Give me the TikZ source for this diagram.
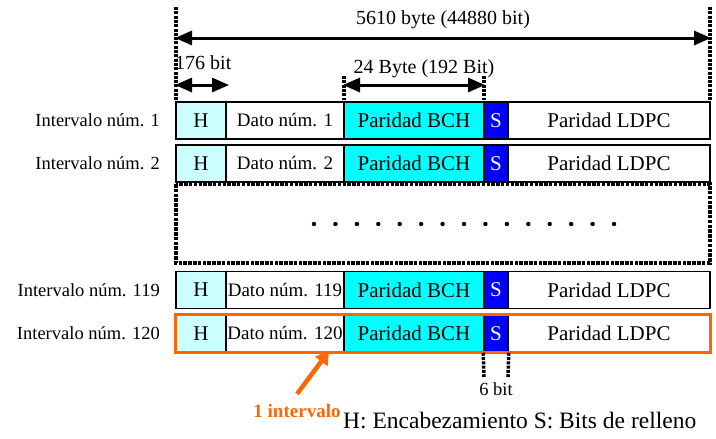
\documentclass[tikz,border=0pt]{standalone}
\usepackage{fontspec}
\setmainfont{Liberation Serif}
\usetikzlibrary{arrows.meta}
\definecolor{hcyan}{HTML}{CCFFFF}
\definecolor{bchcyan}{HTML}{00FFFF}
\definecolor{sblue}{HTML}{0000FF}
\definecolor{slotorange}{HTML}{FF6600}
\newcommand\fs[1]{\fontsize{#1}{#1}\selectfont}
\begin{document}
\begin{tikzpicture}[x=1pt,y=-1pt,
  cell/.style={draw=black, line width=1.5pt, minimum height=37pt, inner sep=0pt, anchor=center},
  rowlabel/.style={anchor=east, inner sep=0pt, font=\fs{18.5}},
  dimarrow/.style={line width=3pt, {Triangle[length=17pt,width=14pt]}-{Triangle[length=17pt,width=14pt]}, shorten <=-1pt, shorten >=-1pt},
  guide/.style={line width=3.5pt, dash pattern=on 3pt off 1.3pt},
  dimlabel/.style={inner sep=0pt, font=\fs{20}}]
\useasboundingbox (0,0) rectangle (716,439);

% one slot row: header, data, BCH parity, stuffing bits, LDPC parity
\foreach \n/\yc in {1/120.5, 2/163.5, 119/290, 120/333.5}{
  \node[rowlabel] (lab\n) at (160,\yc) {Intervalo núm. \n};
  \node[cell, fill=hcyan, minimum width=50pt, font=\fs{21}] (h\n) at (201,\yc) {H};
  \node[cell, fill=white, minimum width=118pt, font=\fs{19}] (d\n) at (285,\yc) {Dato núm. \n};
  \node[cell, fill=bchcyan, minimum width=140pt, font=\fs{21}] (b\n) at (414,\yc) {Paridad BCH};
  \node[cell, fill=sblue, minimum width=24pt, font=\fs{21}, text=white] (s\n) at (496,\yc) {S};
  \node[cell, fill=white, minimum width=202pt, font=\fs{21}] (l\n) at (609,\yc) {Paridad LDPC};
}
% highlighted slot
\draw[slotorange, line width=3pt] (h120.north west) rectangle (l120.south east);

% rows left out
\draw[line width=3.5pt, dash pattern=on 3.5pt off 1.3pt] (176,184) rectangle (710,263);
\foreach \i in {0,...,14}{
  \fill (314+\i*21.43,224) circle (2.2pt);
}

% overall length
\coordinate (tl) at (176,7);
\coordinate (tr) at (710,7);
\coordinate (tlb) at (176,100);
\coordinate (trb) at (710,100);
\draw[guide] (tl) -- (tlb);
\draw[guide] (tr) -- (trb);
\coordinate (aL) at (176,38);
\coordinate (aR) at (710,38);
\draw[dimarrow] (aL) -- (aR);
\node[dimlabel] (total) at (443,20) {5610 byte (44880 bit)};

% header length
\coordinate (hL) at (176,85);
\coordinate (hR) at (228,85);
\draw[dimarrow] (hL) -- (hR);
\node[dimlabel, anchor=west] (hlen) at (175,63) {176 bit};

% BCH parity length
\coordinate (bt1) at (344,76);
\coordinate (bt2) at (484,76);
\coordinate (bb1) at (344,100);
\coordinate (bb2) at (484,100);
\draw[guide] (bt1) -- (bb1);
\draw[guide] (bt2) -- (bb2);
\coordinate (bL) at (344,85);
\coordinate (bR) at (484,85);
\draw[dimarrow] (bL) -- (bR);
\node[dimlabel] (blen) at (424,69) {24 Byte (192 Bit)};

% stuffing length
\coordinate (s1) at (484,377);
\coordinate (s2) at (508,377);
\draw[guide] (s120.south west) -- (s1);
\draw[guide] (s120.south east) -- (s2);
\node[inner sep=0pt, font=\fs{18.5}] (slen) at (496,389) {6 bit};

% slot pointer
\node[inner sep=0pt, font=\fs{19}\bfseries, text=slotorange] (one) at (297,411) {1 intervalo};
\coordinate (ptail) at (297,394);
\coordinate (ptip) at (329,351);
\draw[slotorange, line width=4.5pt, -{Triangle[length=13pt,width=15pt]}] (ptail) -- (ptip);

% legend
\node[anchor=west, inner sep=0pt, font=\fs{23.5}] (legend) at (343,421) {H: Encabezamiento S: Bits de relleno};
\end{tikzpicture}
\end{document}
